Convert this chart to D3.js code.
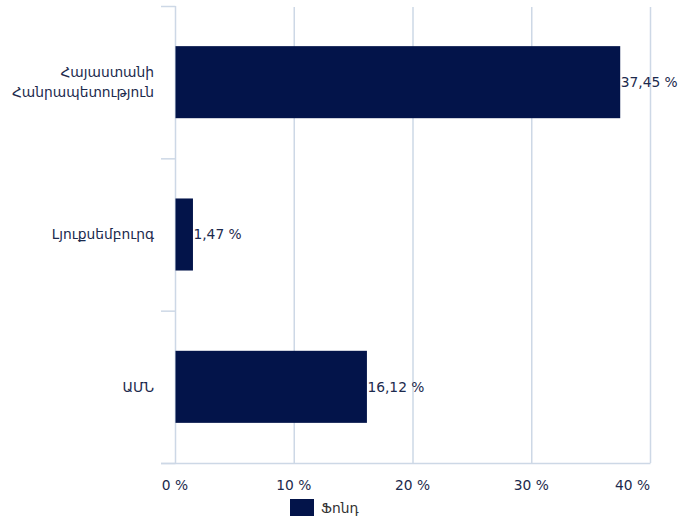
<!DOCTYPE html>
<html>
<head>
<meta charset="utf-8">
<script src="https://cdn.jsdelivr.net/npm/d3@7"></script>
<style>
  body { margin: 0; background: #fff; }
  text { font-family: "DejaVu Sans", Verdana, sans-serif; }
</style>
</head>
<body>
<div id="chart"></div>
<script>
// data
const categories = [["Հայաստանի", "Հանրապետություն"], ["Լյուքսեմբուրգ"], ["ԱՄՆ"]];
const values = [37.45, 1.47, 16.12];
const valueLabels = ["37,45 %", "1,47 %", "16,12 %"];
const xTicks = [0, 10, 20, 30, 40];
const xTickLabels = ["0 %", "10 %", "20 %", "30 %", "40 %"];
const seriesName = "Ֆոնդ";

const W = 680, H = 522;
const margin = { top: 6, right: 30, bottom: 59, left: 175 };
const width = 650 - margin.left,
    height = H - margin.top - margin.bottom;

const textColor = "#1c2a4d", gridColor = "#cdd8e6", barColor = "#03144a";
const fontSize = 13.8;

const svg = d3.select("#chart").append("svg")
    .attr("width", W).attr("height", H);

const g = svg.append("g")
    .attr("transform", `translate(${margin.left}, ${margin.top})`);

const x = d3.scaleLinear().domain([0, 40]).range([0, width]);
const y = d3.scaleBand().domain(d3.range(categories.length)).range([0, height]).paddingInner(0.527).paddingOuter(0.2635);

// vertical grid lines
g.append("g").selectAll("line")
    .data(xTicks.slice(1))
    .enter().append("line")
    .attr("x1", d => x(d) + 0.5).attr("x2", d => x(d) + 0.5)
    .attr("y1", 1).attr("y2", height)
    .attr("stroke", gridColor).attr("stroke-width", 1.5);

// left axis line and category ticks
const bandEdges = d3.range(categories.length + 1).map(i => i * height / categories.length);
g.append("line")
    .attr("x1", 0.5).attr("x2", 0.5).attr("y1", 0).attr("y2", height)
    .attr("stroke", gridColor).attr("stroke-width", 1.5);
g.append("g").selectAll("line")
    .data(bandEdges)
    .enter().append("line")
    .attr("x1", -14).attr("x2", 0.5)
    .attr("y1", d => d + 0.5).attr("y2", d => d + 0.5)
    .attr("stroke", gridColor).attr("stroke-width", 1.5);

// bottom axis line
g.append("line")
    .attr("x1", -14).attr("x2", width + 0.5)
    .attr("y1", height + 0.5).attr("y2", height + 0.5)
    .attr("stroke", gridColor).attr("stroke-width", 1.5);

// bars
g.append("g").selectAll("rect")
    .data(values)
    .enter().append("rect")
    .attr("x", x(0) + 0.5)
    .attr("y", (d, i) => y(i))
    .attr("width", d => x(d))
    .attr("height", y.bandwidth())
    .attr("fill", barColor);

// value labels
g.append("g").selectAll("text")
    .data(values)
    .enter().append("text")
    .attr("x", d => x(d) + 1)
    .attr("y", (d, i) => y(i) + y.bandwidth() / 2)
    .attr("dy", "0.35em")
    .attr("font-size", fontSize)
    .attr("fill", textColor)
    .text((d, i) => valueLabels[i]);

// category labels
const catLabels = g.append("g").selectAll("text")
    .data(categories)
    .enter().append("text")
    .attr("text-anchor", "end")
    .attr("font-size", fontSize)
    .attr("fill", textColor)
    .attr("y", (d, i) => y(i) + y.bandwidth() / 2);
catLabels.selectAll("tspan")
    .data(d => d.map((t, j) => ({ t, j, n: d.length })))
    .enter().append("tspan")
    .attr("x", -21)
    .attr("dy", d => d.j === 0 ? ((0.35 - (d.n - 1) * 0.72) + "em") : "1.44em")
    .text(d => d.t);

// x tick labels
g.append("g").selectAll("text")
    .data(xTicks)
    .enter().append("text")
    .attr("x", d => x(d))
    .attr("y", height + 22)
    .attr("dy", "0.35em")
    .attr("text-anchor", (d, i) => i === xTicks.length - 1 ? "end" : "middle")
    .attr("font-size", fontSize)
    .attr("fill", textColor)
    .text((d, i) => xTickLabels[i]);

// legend
const legend = svg.append("g").attr("transform", "translate(290, 499)");
legend.append("rect").attr("width", 24).attr("height", 17).attr("fill", barColor);
legend.append("text")
    .attr("x", 31).attr("y", 9).attr("dy", "0.35em")
    .attr("font-size", fontSize).attr("fill", "#333")
    .text(seriesName);
</script>
</body>
</html>
